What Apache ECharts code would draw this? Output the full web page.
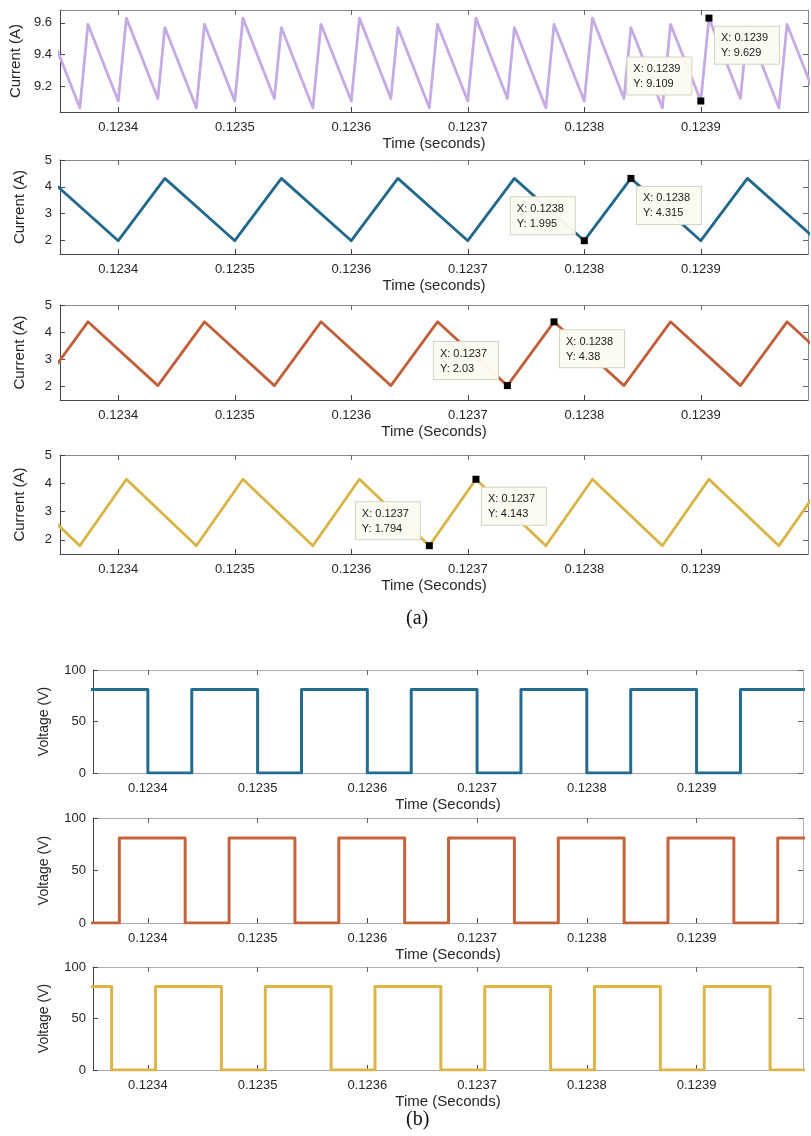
<!DOCTYPE html>
<html><head><meta charset="utf-8">
<script src="https://cdn.jsdelivr.net/npm/echarts@6/dist/echarts.min.js"></script>
<style>html,body{margin:0;padding:0;background:#fff}#c{width:811px;height:1136px}</style>
</head><body><div id="c"></div>
<script>
// ---------- data ----------
const timeTicks = [0.1234, 0.1235, 0.1236, 0.1237, 0.1238, 0.1239];
const totalTicks = [9.2, 9.4, 9.6];
const phaseTicks = [2, 3, 4, 5];
const voltTicks = [0, 50, 100];

// total input current (A) - vertices [time, value]
const iTotal = [
  [0.123334,9.125],[0.12334,9.57],[0.123367,9.066],[0.123374,9.59],
  [0.1234,9.109],[0.123407,9.629],[0.123434,9.125],[0.12344,9.57],[0.123467,9.066],[0.123474,9.59],
  [0.1235,9.109],[0.123507,9.629],[0.123534,9.125],[0.12354,9.57],[0.123567,9.066],[0.123574,9.59],
  [0.1236,9.109],[0.123607,9.629],[0.123634,9.125],[0.12364,9.57],[0.123667,9.066],[0.123674,9.59],
  [0.1237,9.109],[0.123707,9.629],[0.123734,9.125],[0.12374,9.57],[0.123767,9.066],[0.123774,9.59],
  [0.1238,9.109],[0.123807,9.629],[0.123834,9.125],[0.12384,9.57],[0.123867,9.066],[0.123874,9.59],
  [0.1239,9.109],[0.123907,9.629],[0.123934,9.125],[0.12394,9.57],[0.123967,9.066],[0.123974,9.59],
  [0.124,9.109]
];
// phase currents (A)
const iA = [
  [0.12334,4.315],[0.1234,1.995],[0.12344,4.315],[0.1235,1.995],[0.12354,4.315],[0.1236,1.995],
  [0.12364,4.315],[0.1237,1.995],[0.12374,4.315],[0.1238,1.995],[0.12384,4.315],[0.1239,1.995],
  [0.12394,4.315],[0.124,1.995]
];
const iB = [
  [0.123334,2.03],[0.123374,4.38],[0.123434,2.03],[0.123474,4.38],[0.123534,2.03],[0.123574,4.38],
  [0.123634,2.03],[0.123674,4.38],[0.123734,2.03],[0.123774,4.38],[0.123834,2.03],[0.123874,4.38],
  [0.123934,2.03],[0.123974,4.38],[0.124034,2.03]
];
const iC = [
  [0.123307,4.143],[0.123367,1.794],[0.123407,4.143],[0.123467,1.794],[0.123507,4.143],[0.123567,1.794],
  [0.123607,4.143],[0.123667,1.794],[0.123707,4.143],[0.123767,1.794],[0.123807,4.143],[0.123867,1.794],
  [0.123907,4.143],[0.123967,1.794],[0.124007,4.143]
];
// switch voltages (V) - each point holds its value until the next point
const vA = [
  [0.12333,81],[0.1234,0],[0.12344,81],[0.1235,0],[0.12354,81],[0.1236,0],[0.12364,81],[0.1237,0],
  [0.12374,81],[0.1238,0],[0.12384,81],[0.1239,0],[0.12394,81],[0.1241,81]
];
const vB = [
  [0.12333,0],[0.123374,81],[0.123434,0],[0.123474,81],[0.123534,0],[0.123574,81],[0.123634,0],
  [0.123674,81],[0.123734,0],[0.123774,81],[0.123834,0],[0.123874,81],[0.123934,0],[0.123974,81],[0.1241,81]
];
const vC = [
  [0.12333,81],[0.123367,0],[0.123407,81],[0.123467,0],[0.123507,81],[0.123567,0],[0.123607,81],
  [0.123667,0],[0.123707,81],[0.123767,0],[0.123807,81],[0.123867,0],[0.123907,81],[0.123967,0],[0.1241,0]
];
// data tips [time, value] : first = valley, second = peak
const tipsTotal = [[0.1239, 9.109], [0.123907, 9.629]];
const tipsA = [[0.1238, 1.995], [0.12384, 4.315]];
const tipsB = [[0.123734, 2.03], [0.123774, 4.38]];
const tipsC = [[0.123667, 1.794], [0.123707, 4.143]];

// ---------- layout / style ----------
const FONT = "'Liberation Sans', Arial, sans-serif";
const X_MIN = 0.12335;
const panels = [
  {data: iTotal, tips: tipsTotal, color: '#c6aae4', width: 2.8, yMin: 9.04, yMax: 9.68, yTicks: totalTicks,
   yName: 'Current (A)', xName: 'Time (seconds)', grid: {left: 60, top: 10, width: 748, height: 102}, xMax: 0.123992, volt: false},
  {data: iA, tips: tipsA, color: '#21688a', width: 2.8, yMin: 1.5, yMax: 5, yTicks: phaseTicks,
   yName: 'Current (A)', xName: 'Time (seconds)', grid: {left: 60, top: 160, width: 748, height: 94}, xMax: 0.123992, volt: false},
  {data: iB, tips: tipsB, color: '#c0603a', width: 2.8, yMin: 1.5, yMax: 5, yTicks: phaseTicks,
   yName: 'Current (A)', xName: 'Time (Seconds)', grid: {left: 60, top: 305, width: 748, height: 95}, xMax: 0.123992, volt: false},
  {data: iC, tips: tipsC, color: '#d8b444', width: 2.8, yMin: 1.5, yMax: 5, yTicks: phaseTicks,
   yName: 'Current (A)', xName: 'Time (Seconds)', grid: {left: 60, top: 455, width: 748, height: 99}, xMax: 0.123992, volt: false},
  {data: vA, color: '#246c8e', width: 3, yMin: 0, yMax: 100, yTicks: voltTicks,
   yName: 'Voltage (V)', xName: 'Time (Seconds)', grid: {left: 93, top: 670, width: 710, height: 103}, xMax: 0.123997, volt: true},
  {data: vB, color: '#c5643c', width: 3, yMin: 0, yMax: 100, yTicks: voltTicks,
   yName: 'Voltage (V)', xName: 'Time (Seconds)', grid: {left: 93, top: 818, width: 710, height: 105}, xMax: 0.123997, volt: true},
  {data: vC, color: '#dbb54a', width: 3, yMin: 0, yMax: 100, yTicks: voltTicks,
   yName: 'Voltage (V)', xName: 'Time (Seconds)', grid: {left: 93, top: 967, width: 710, height: 103}, xMax: 0.123997, volt: true}
];

const TIP_W = 52; // text width inside data tip box
const grids = [], xAxes = [], yAxes = [], series = [];
panels.forEach((p, i) => {
  grids.push(Object.assign({containLabel: false}, p.grid));
  const mainLine = '#444', boxLine = p.volt ? '#b0b0b0' : '#8a8a8a';
  const bottomLine = p.volt ? '#a8a8a8' : '#444';
  xAxes.push({
    type: 'value', gridIndex: i, position: 'bottom', min: X_MIN, max: p.xMax,
    name: p.xName, nameLocation: 'middle', nameGap: 24,
    nameTextStyle: {fontFamily: FONT, fontSize: 15, color: '#262626'},
    axisLine: {show: true, onZero: false, lineStyle: {color: bottomLine, width: 1}},
    axisTick: {show: true, inside: true, length: 5, customValues: timeTicks, lineStyle: {color: '#444'}},
    axisLabel: {show: true, customValues: timeTicks, margin: 9, fontFamily: FONT, fontSize: 13, color: '#262626',
      formatter: v => v.toFixed(4)},
    splitLine: {show: false}
  });
  xAxes.push({
    type: 'value', gridIndex: i, position: 'top', min: X_MIN, max: p.xMax,
    axisLine: {show: true, onZero: false, lineStyle: {color: boxLine, width: 1}},
    axisTick: {show: true, inside: true, length: 5, customValues: timeTicks, lineStyle: {color: '#666'}},
    axisLabel: {show: false}, splitLine: {show: false}
  });
  yAxes.push({
    type: 'value', gridIndex: i, position: 'left', min: p.yMin, max: p.yMax,
    name: p.yName, nameLocation: 'middle', nameGap: p.volt ? 42 : 33,
    nameTextStyle: {fontFamily: FONT, fontSize: p.volt ? 14 : 15, color: '#262626'},
    axisLine: {show: true, onZero: false, lineStyle: {color: mainLine, width: 1}},
    axisTick: {show: true, inside: true, length: 5, customValues: p.yTicks, lineStyle: {color: '#444'}},
    axisLabel: {show: true, customValues: p.yTicks, margin: p.volt ? 7 : 8, fontFamily: FONT, fontSize: 13, color: '#262626'},
    splitLine: {show: false}
  });
  yAxes.push({
    type: 'value', gridIndex: i, position: 'right', min: p.yMin, max: p.yMax,
    axisLine: {show: true, onZero: false, lineStyle: {color: boxLine, width: 1}},
    axisTick: {show: true, inside: true, length: 5, customValues: p.yTicks, lineStyle: {color: '#666'}},
    axisLabel: {show: false}, splitLine: {show: false}
  });
  const s = {
    type: 'line', xAxisIndex: 2 * i, yAxisIndex: 2 * i, data: p.data,
    showSymbol: false, symbol: 'none', clip: true, animation: false,
    lineStyle: {color: p.color, width: p.width, join: 'round', cap: 'round'},
    itemStyle: {color: p.color}, z: 3
  };
  if (p.volt) s.step = 'end';
  if (p.tips) {
    s.markPoint = {
      symbol: 'rect', symbolSize: 7, animation: false,
      itemStyle: {color: '#000'},
      data: p.tips.map((t, k) => ({
        coord: t,
        label: {
          show: true,
          formatter: 'X: ' + t[0].toFixed(4) + '\nY: ' + t[1],
          position: k === 0 ? [-(6 + TIP_W + 12), -3] : [9.5, 12],
          align: 'left',
          verticalAlign: k === 0 ? 'bottom' : 'top',
          width: TIP_W,
          backgroundColor: 'rgba(251,251,240,0.96)',
          borderColor: '#d4d4c4', borderWidth: 1,
          padding: [4, 6, 3, 6],
          fontFamily: FONT, fontSize: 11, lineHeight: 15, color: '#1a1a1a'
        }
      }))
    };
  }
  series.push(s);
});

const chart = echarts.init(document.getElementById('c'), null, {renderer: 'canvas'});
chart.setOption({
  backgroundColor: '#fff',
  animation: false,
  grid: grids, xAxis: xAxes, yAxis: yAxes, series: series,
  graphic: [
    {type: 'text', left: 406, top: 609, style: {text: '(a)', font: "20px 'Liberation Serif', 'Times New Roman', serif", fill: '#111'}},
    {type: 'text', left: 406, top: 1110, style: {text: '(b)', font: "20px 'Liberation Serif', 'Times New Roman', serif", fill: '#111'}}
  ]
});
</script>
</body></html>
